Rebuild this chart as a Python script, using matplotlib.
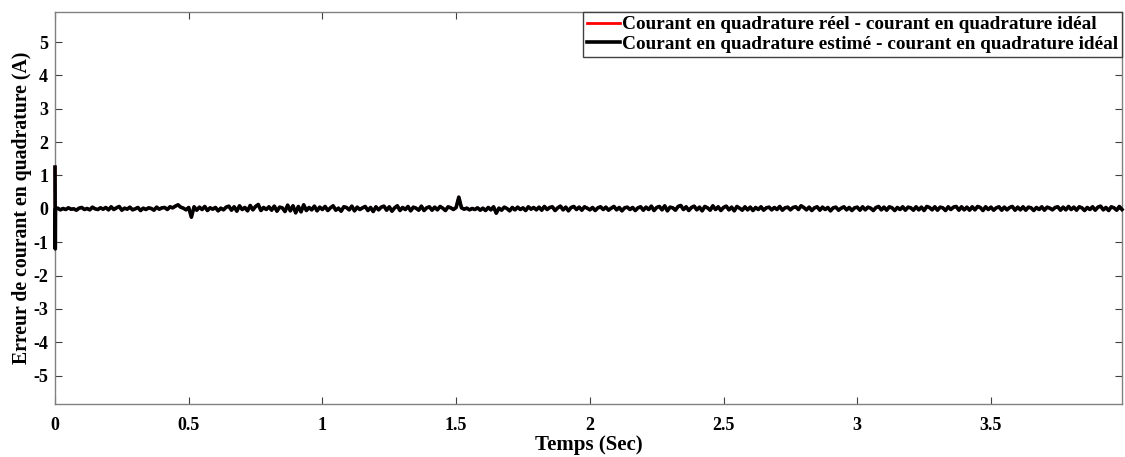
import numpy as np
import matplotlib
matplotlib.use("Agg")
import matplotlib.pyplot as plt

plt.rcParams['font.family'] = ['Liberation Serif', 'DejaVu Serif']
plt.rcParams['font.weight'] = 'bold'

# Start-up transient (s, A)
spike_t = [0.0, 0.001, 0.002]
spike_v = [1.25, -1.2, 0.0]

# Error samples every 0.01 s from 0.01 s to 3.99 s (A)
noise_v = [
    0.02, -0.03, 0.01, -0.02, 0.03, -0.01, 0.00, -0.04, 0.02, 0.04, -0.02, 0.01, -0.03, 0.05, 0.00, -0.02, 0.03, -0.01, 0.04, -0.03,
    0.06, -0.02, 0.03, 0.07, -0.04, 0.02, -0.01, 0.05, -0.03, 0.00, 0.04, -0.05, 0.02, -0.02, 0.03, 0.01, -0.04, 0.05, -0.01, 0.03,
    0.04, -0.02, 0.06, 0.03, 0.08, 0.12, 0.05, 0.02, -0.03, 0.04, -0.25, 0.06, -0.04, 0.05, -0.02, 0.07, -0.05, 0.03, -0.01, 0.04,
    -0.06, 0.02, -0.03, 0.05, 0.08, -0.04, 0.06, -0.07, 0.09, -0.02, 0.04, -0.06, 0.10, -0.03, 0.07, 0.13, -0.05, 0.04, -0.02, 0.06,
    -0.04, 0.08, -0.07, 0.05, 0.03, -0.08, 0.11, -0.06, 0.09, -0.12, 0.07, -0.09, 0.12, -0.05, 0.04, -0.03, 0.08, -0.06, 0.05, -0.02,
    0.07, -0.05, 0.03, 0.09, -0.04, 0.02, -0.07, 0.06, 0.04, -0.03, 0.08, -0.06, 0.05, -0.02, 0.03, 0.07, -0.05, 0.04, -0.08, 0.06,
    -0.03, 0.05, 0.08, -0.04, 0.06, -0.07, 0.03, 0.09, -0.05, 0.04, -0.02, 0.07, -0.06, 0.05, 0.02, -0.04, 0.08, -0.05, 0.03, 0.06,
    -0.04, 0.05, -0.03, 0.07, 0.02, -0.05, 0.06, 0.03, -0.02, 0.04, 0.35, 0.03, -0.01, 0.02, -0.03, 0.01, -0.02, 0.03, -0.04, 0.02,
    -0.05, 0.04, -0.03, 0.06, -0.13, 0.02, -0.04, 0.05, 0.01, -0.06, 0.04, -0.03, 0.05, -0.02, 0.03, -0.05, 0.06, -0.01, 0.04, -0.03,
    0.05, -0.04, 0.07, -0.02, 0.04, 0.06, -0.05, 0.03, 0.08, -0.03, 0.05, -0.06, 0.04, 0.07, -0.02, 0.05, -0.04, 0.06, 0.02, -0.03,
    0.04, -0.05, 0.03, 0.06, -0.02, 0.05, -0.04, 0.02, 0.07, -0.03, 0.04, -0.06, 0.03, 0.05, -0.02, 0.04, -0.05, 0.03, 0.06, -0.04,
    0.05, -0.02, 0.08, -0.05, 0.04, 0.07, -0.03, 0.09, -0.06, 0.05, 0.03, -0.04, 0.07, 0.10, -0.02, 0.06, -0.05, 0.04, 0.08, -0.03,
    0.05, -0.06, 0.07, 0.03, -0.04, 0.09, -0.02, 0.06, -0.05, 0.04, 0.08, -0.03, 0.05, -0.06, 0.07, 0.02, -0.04, 0.06, -0.03, 0.05,
    -0.05, 0.04, -0.02, 0.06, -0.04, 0.03, 0.05, -0.03, 0.04, -0.02, 0.07, -0.04, 0.03, 0.05, -0.03, 0.04, 0.06, -0.02, 0.09, 0.04,
    -0.03, 0.05, -0.05, 0.03, 0.06, -0.04, 0.05, -0.02, 0.04, -0.06, 0.03, 0.05, -0.04, 0.02, 0.06, -0.03, 0.04, -0.05, 0.03, 0.05,
    -0.04, 0.06, -0.03, 0.05, 0.02, -0.05, 0.04, 0.07, -0.03, 0.05, -0.04, 0.06, 0.03, -0.05, 0.04, -0.02, 0.06, -0.04, 0.05, 0.03,
    -0.04, 0.06, -0.03, 0.05, -0.05, 0.07, 0.04, -0.03, 0.06, -0.04, 0.05, 0.03, -0.05, 0.06, -0.02, 0.05, 0.07, -0.04, 0.06, -0.03,
    0.05, -0.04, 0.06, -0.03, 0.07, 0.04, -0.05, 0.06, -0.02, 0.05, -0.04, 0.03, 0.06, -0.04, 0.05, -0.03, 0.04, 0.07, -0.04, 0.05,
    -0.03, 0.06, -0.04, 0.05, 0.03, -0.05, 0.04, -0.02, 0.06, -0.04, 0.05, 0.02, -0.03, 0.04, 0.06, -0.04, 0.05, -0.03, 0.07, -0.02,
    0.05, -0.04, 0.06, 0.03, -0.05, 0.04, -0.02, 0.06, -0.04, 0.05, 0.08, -0.03, 0.04, -0.05, 0.06, 0.03, -0.04, 0.07, -0.02,
]
noise_t = [0.01 * (i + 1) for i in range(len(noise_v))]

time = spike_t + noise_t
err_est = spike_v + noise_v
err_real = spike_v + noise_v

x_ticks = [0, 0.5, 1, 1.5, 2, 2.5, 3, 3.5]
x_ticklabels = ['0', '0.5', '1', '1.5', '2', '2.5', '3', '3.5']
y_ticks = [-5, -4, -3, -2, -1, 0, 1, 2, 3, 4, 5]
y_ticklabels = ['-5', '-4', '-3', '-2', '-1', '0', '1', '2', '3', '4', '5']

labels = ['Courant en quadrature réel - courant en quadrature idéal',
          'Courant en quadrature estimé - courant en quadrature idéal']

fig = plt.figure(figsize=(11.25, 4.57), dpi=100)
ax = fig.add_axes([55 / 1125, 1 - 404 / 457, (1122 - 55) / 1125, (404 - 12) / 457])

ax.plot(time, err_real, color='#ff0000', lw=2.0, label=labels[0], zorder=3, clip_on=False)
ax.plot(time, err_est, color='#000000', lw=2.6, label=labels[1], zorder=4, clip_on=False)

ax.set_xlim(0, 3.99)
ax.set_ylim(-5.85, 5.9)
ax.set_xticks(x_ticks)
ax.set_xticklabels(x_ticklabels)
ax.set_yticks(y_ticks)
ax.set_yticklabels(y_ticklabels)
ax.tick_params(direction='in', length=5, width=0.8, color='#404040',
               top=True, right=True, labelsize=13)
ax.tick_params(axis='y', pad=5)
ax.tick_params(axis='x', pad=9)
for lbl in ax.get_xticklabels() + ax.get_yticklabels():
    lbl.set_fontweight('bold')
for s in ax.spines.values():
    s.set_color('#808080')
    s.set_linewidth(1.0)

ax.set_xlabel('Temps (Sec)', fontsize=15, fontweight='bold', labelpad=1)
ax.set_ylabel('Erreur de courant en quadrature (A)', fontsize=14.2, fontweight='bold', labelpad=1)

leg = ax.legend(loc='upper right', bbox_to_anchor=(1.0, 1.0),
                prop={'weight': 'bold', 'size': 13.9},
                frameon=True, fancybox=False, framealpha=1, edgecolor='#404040',
                handlelength=1.7, handletextpad=0.1, borderpad=0.2,
                labelspacing=0.12, borderaxespad=0)
leg.get_frame().set_linewidth(1.0)
leg.set_zorder(10)

fig.savefig('out.png', dpi=100)
